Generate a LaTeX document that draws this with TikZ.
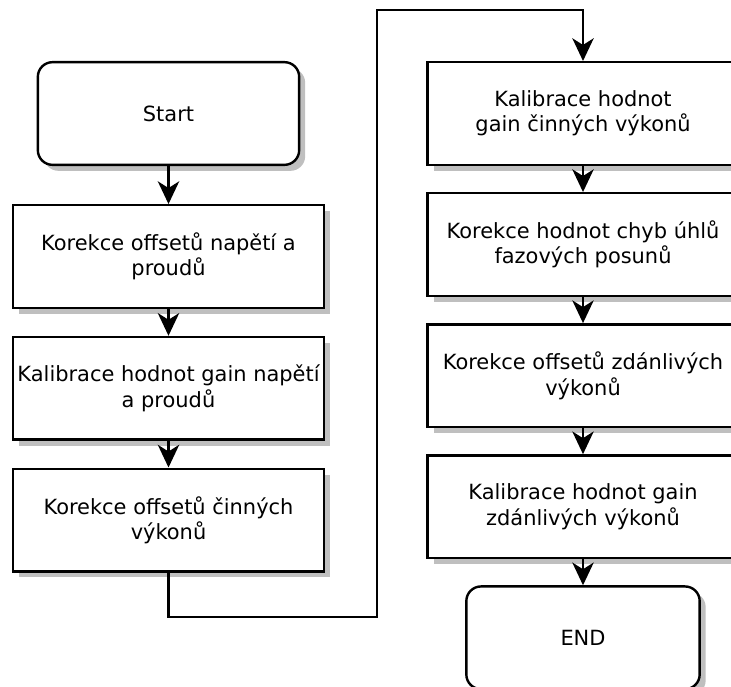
\documentclass[tikz,border=0pt]{standalone}
\usepackage{fontspec}
\setmainfont{DejaVu Sans}
\usetikzlibrary{arrows.meta,positioning,shadows}
\tikzset{
  procbox/.style={draw=black, line width=1.8pt, fill=white,
    minimum width=233pt, minimum height=77pt, align=center,
    font=\fontsize{15.7}{19}\selectfont,
    drop shadow={shadow xshift=4.5pt, shadow yshift=-4.5pt,
      fill=black!25, opacity=1}},
  termbox/.style={procbox, rounded corners=11pt, minimum width=196pt},
  endbox/.style={termbox, minimum width=175pt},
  flow/.style={-{Stealth[length=17pt, width=16pt, inset=5pt]}, line width=1.8pt}
}

\begin{document}
\begin{tikzpicture}[x=0.75pt, y=-0.75pt, node distance=20pt and 0pt]
  \useasboundingbox (0,0) rectangle (731,686);

  % left column
  \node[termbox] (start) at (168.5,113.5) {Start};
  \node[procbox, below=28.5pt of start] (offs) {Korekce offsetů napětí a\\proudů};
  \node[procbox, below=of offs] (gainui) {Kalibrace hodnot gain napětí\\a proudů};
  \node[procbox, below=of gainui] (offp) {Korekce offsetů činných\\výkonů};

  % right column
  \node[procbox] (gainp) at (583,113.5) {Kalibrace hodnot\\gain činných výkonů};
  \node[procbox, below=19.5pt of gainp] (phase) {Korekce hodnot chyb úhlů\\fazových posunů};
  \node[procbox, below=19.5pt of phase] (offs2) {Korekce offsetů zdánlivých\\výkonů};
  \node[procbox, below=19.5pt of offs2] (gains) {Kalibrace hodnot gain\\zdánlivých výkonů};
  \node[endbox, below=19.5pt of gains] (end) {END};

  \coordinate (jog) at (377,617);
  \coordinate (top) at (377,10);

  \draw[flow] (start) -- (offs);
  \draw[flow] (offs) -- (gainui);
  \draw[flow] (gainui) -- (offp);
  \draw[flow] (offp.south) |- (jog) -- (top) -| (gainp.north);
  \draw[flow] (gainp) -- (phase);
  \draw[flow] (phase) -- (offs2);
  \draw[flow] (offs2) -- (gains);
  \draw[flow] (gains) -- (end);
\end{tikzpicture}
\end{document}
